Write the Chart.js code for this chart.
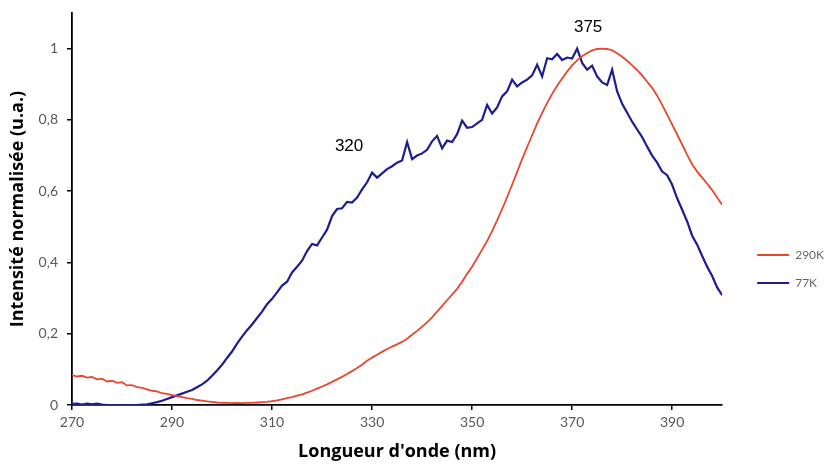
<!DOCTYPE html>
<html>
<head>
<meta charset="utf-8">
<script src="https://cdn.jsdelivr.net/npm/chart.js@4/dist/chart.umd.min.js"></script>
<style>
  html, body { margin: 0; padding: 0; background: #ffffff; }
  #wrap { width: 834px; height: 464px; }
</style>
</head>
<body>
<div id="wrap"><canvas id="c" width="834" height="464"></canvas></div>
<script>
const wavelengths = [270,271,272,273,274,275,276,277,278,279,280,281,282,283,284,285,286,287,288,289,
290,291,292,293,294,295,296,297,298,299,300,301,302,303,304,305,306,307,308,309,
310,311,312,313,314,315,316,317,318,319,320,321,322,323,324,325,326,327,328,329,
330,331,332,333,334,335,336,337,338,339,340,341,342,343,344,345,346,347,348,349,
350,351,352,353,354,355,356,357,358,359,360,361,362,363,364,365,366,367,368,369,
370,371,372,373,374,375,376,377,378,379,380,381,382,383,384,385,386,387,388,389,
390,391,392,393,394,395,396,397,398,399,400];

const series290K = [0.084,0.080,0.082,0.077,0.079,0.072,0.074,0.066,0.068,0.062,0.064,0.055,0.056,0.050,0.048,0.044,0.040,0.038,0.033,0.031,
0.028,0.025,0.022,0.019,0.017,0.014,0.012,0.010,0.009,0.007,0.006,0.006,0.005,0.006,0.005,0.006,0.006,0.007,0.008,0.009,
0.011,0.013,0.016,0.019,0.022,0.026,0.030,0.035,0.040,0.046,0.052,0.058,0.065,0.072,0.079,0.087,0.095,0.104,0.113,0.124,
0.133,0.141,0.149,0.157,0.164,0.170,0.177,0.186,0.197,0.208,0.220,0.232,0.246,0.262,0.278,0.294,0.310,0.326,0.346,0.368,
0.388,0.412,0.436,0.460,0.488,0.518,0.550,0.583,0.618,0.654,0.690,0.724,0.757,0.790,0.820,0.847,0.873,0.896,0.916,0.936,
0.953,0.967,0.979,0.988,0.995,0.999,1.000,0.999,0.995,0.987,0.977,0.966,0.953,0.940,0.925,0.907,0.890,0.868,0.842,0.815,
0.787,0.759,0.731,0.702,0.675,0.655,0.638,0.621,0.603,0.582,0.562];

const series77K = [0.003,0.004,0.001,0.004,0.002,0.004,0.001,0.000,0.000,0.000,0.000,0.000,0.000,0.000,0.001,0.002,0.005,0.008,0.012,0.017,
0.022,0.027,0.032,0.037,0.042,0.050,0.058,0.068,0.082,0.097,0.113,0.132,0.150,0.172,0.192,0.210,0.226,0.244,0.262,0.283,
0.298,0.316,0.335,0.346,0.372,0.388,0.405,0.432,0.452,0.448,0.470,0.492,0.530,0.550,0.552,0.570,0.568,0.582,0.605,0.625,
0.652,0.638,0.650,0.662,0.670,0.680,0.686,0.738,0.690,0.700,0.706,0.716,0.740,0.755,0.720,0.742,0.738,0.760,0.798,0.778,
0.780,0.790,0.800,0.842,0.818,0.835,0.866,0.880,0.913,0.894,0.905,0.913,0.925,0.955,0.922,0.973,0.970,0.985,0.968,0.975,
0.972,1.000,0.960,0.941,0.952,0.922,0.905,0.898,0.941,0.880,0.845,0.820,0.795,0.773,0.752,0.725,0.700,0.680,0.655,0.645,
0.618,0.580,0.548,0.515,0.475,0.450,0.418,0.388,0.362,0.330,0.308];

const seriesNames = ['290K', '77K'];
const xTickValues = [270, 290, 310, 330, 350, 370, 390];
const yTickValues = [0, 0.2, 0.4, 0.6, 0.8, 1];
const peakLabels = ['320', '375'];
const peakLabelX = [325.4, 373.2];
const peakLabelY = [0.725, 1.06];

const xTitle = "Longueur d'onde (nm)";
const yTitle = 'Intensité normalisée (u.a.)';

const toPoints = (vals) => wavelengths.map((w, i) => ({ x: w, y: vals[i] }));

const peakLabelPlugin = {
  id: 'peakLabels',
  afterDatasetsDraw(chart) {
    const { ctx, scales } = chart;
    ctx.save();
    ctx.font = '17px "Liberation Sans", Arial, sans-serif';
    ctx.fillStyle = '#000000';
    ctx.textAlign = 'center';
    ctx.textBaseline = 'middle';
    peakLabels.forEach((t, i) => {
      ctx.fillText(t, scales.x.getPixelForValue(peakLabelX[i]), scales.y.getPixelForValue(peakLabelY[i]));
    });
    ctx.restore();
  }
};

const tickFont = { family: 'Lato, "Open Sans", sans-serif', size: 14 };
const titleFont = { family: '"Open Sans", Lato, sans-serif', size: 18, weight: 'bold' };

new Chart(document.getElementById('c'), {
  type: 'line',
  data: {
    datasets: [
      { label: seriesNames[0], data: toPoints(series290K), borderColor: '#e8472e', backgroundColor: '#e8472e', borderWidth: 1.8, pointRadius: 0, tension: 0 },
      { label: seriesNames[1], data: toPoints(series77K), borderColor: '#1d1d8f', backgroundColor: '#1d1d8f', borderWidth: 2.2, pointRadius: 0, tension: 0 }
    ]
  },
  options: {
    responsive: false,
    animation: false,
    devicePixelRatio: 1,
    layout: { padding: { left: 7, top: 13, right: 0, bottom: 1 } },
    plugins: {
      tooltip: { enabled: false },
      legend: {
        position: 'right',
        align: 'center',
        title: { display: true, text: ' ', color: 'rgba(0,0,0,0)', font: { size: 10 }, padding: { top: 50, bottom: 0 } },
        labels: {
          boxWidth: 32,
          boxHeight: 2,
          padding: 16,
          color: '#666666',
          font: { family: 'Lato, "Open Sans", sans-serif', size: 12 },
          generateLabels(chart) {
            return chart.data.datasets.map((ds, i) => ({
              text: ds.label, fillStyle: ds.borderColor, strokeStyle: ds.borderColor,
              lineWidth: 0, hidden: false, datasetIndex: i, fontColor: '#666666'
            }));
          }
        }
      }
    },
    scales: {
      x: {
        type: 'linear',
        min: 270,
        max: 400,
        afterBuildTicks(scale) { scale.ticks = xTickValues.map(v => ({ value: v })); },
        afterFit(scale) { scale.height = 58; scale.paddingLeft = 0; scale.paddingRight = 0; },
        grid: { display: true, drawOnChartArea: false, drawTicks: true, tickLength: 5, color: '#000000', lineWidth: 1.5 },
        border: { display: true, color: '#000000', width: 1.8 },
        ticks: { color: '#595959', font: tickFont, padding: 4, maxRotation: 0 },
        title: { display: true, text: xTitle, color: '#000000', font: titleFont, padding: { top: 4, bottom: 0 } }
      },
      y: {
        type: 'linear',
        min: 0,
        max: 1.1,
        afterBuildTicks(scale) { scale.ticks = yTickValues.map(v => ({ value: v })); },
        afterFit(scale) { scale.width = 65; scale.paddingTop = 0; scale.paddingBottom = 0; },
        grid: { display: true, drawOnChartArea: false, drawTicks: true, tickLength: 5, color: '#000000', lineWidth: 1.5 },
        border: { display: true, color: '#000000', width: 1.8 },
        ticks: {
          color: '#595959', font: tickFont, padding: 9,
          callback: (v) => String(Math.round(v * 10) / 10).replace('.', ',')
        },
        title: { display: true, text: yTitle, color: '#000000', font: titleFont, padding: { top: 0, bottom: 4 } }
      },
      gap: {
        type: 'linear',
        position: 'right',
        display: true,
        min: 0,
        max: 1,
        afterFit(scale) { scale.width = 19; scale.paddingTop = 0; scale.paddingBottom = 0; },
        grid: { display: false },
        border: { display: false },
        ticks: { display: false }
      }
    }
  },
  plugins: [peakLabelPlugin]
});
</script>
</body>
</html>
